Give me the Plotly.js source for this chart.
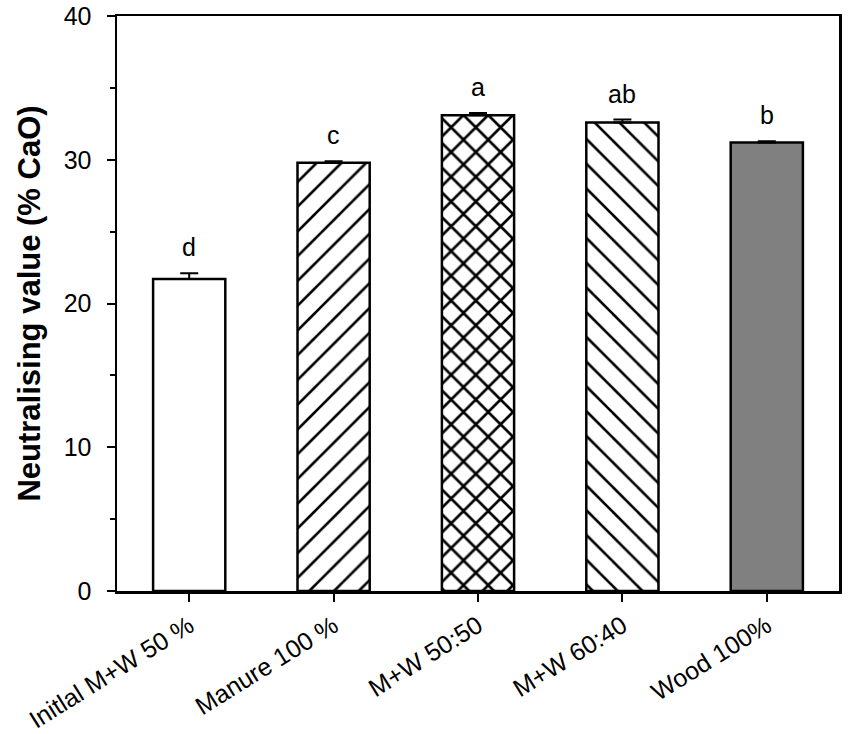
<!DOCTYPE html>
<html>
<head>
<meta charset="utf-8">
<script src="https://cdn.plot.ly/plotly-3.0.1.min.js"></script>
<style>
  html, body { margin: 0; padding: 0; background: #fff; }
  #chart { width: 848px; height: 734px; }
</style>
</head>
<body>
<div id="chart"></div>
<script>
// values
const treatments = ['Initlal M+W 50 %', 'Manure 100 %', 'M+W 50:50', 'M+W 60:40', 'Wood 100%'];
const neutralising = [21.7, 29.8, 33.1, 32.6, 31.2];
const stdErr = [0.4, 0.1, 0.15, 0.2, 0.08];
const groupLetters = ['d', 'c', 'a', 'ab', 'b'];

const hatchShapes = ['', '/', 'x', '\\', ''];
const fillColors = ['#ffffff', '#ffffff', '#ffffff', '#ffffff', '#808080'];
// plotly thins the 'x' hatch for a given solidity, so it needs more to look the same
const hatchSolidity = { '/': 0.15, '\\': 0.15, 'x': 0.28, '': 0.15 };

const FONT = 'Liberation Sans, Arial, sans-serif';

// one trace per bar so every hatch keeps a black foreground
// (an array marker.color makes plotly paint the hatch in the bar colour)
const traces = treatments.map((name, i) => ({
    x: [i],
    y: [neutralising[i]],
    name: name,
    type: 'bar',
    width: 0.5,
    marker: {
        color: fillColors[i],
        line: { color: '#000', width: 2.5 },
        pattern: {
            shape: hatchShapes[i],
            fgcolor: '#000',
            bgcolor: fillColors[i],
            size: 17.5,
            solidity: hatchSolidity[hatchShapes[i]]
        }
    },
    error_y: {
        type: 'data',
        symmetric: false,
        array: [stdErr[i]],
        arrayminus: [0],
        color: '#000',
        thickness: 2,
        width: 9
    },
    hoverinfo: 'skip'
}));

const letterNotes = groupLetters.map((txt, i) => ({
    x: i,
    y: neutralising[i] + stdErr[i],
    text: txt,
    showarrow: false,
    yanchor: 'bottom',
    yshift: 10,
    font: { family: FONT, size: 25, color: '#000' }
}));

const layout = {
    width: 848,
    height: 734,
    margin: { l: 117, r: 9, t: 16, b: 143 },
    paper_bgcolor: '#fff',
    plot_bgcolor: '#fff',
    barmode: 'overlay',
    showlegend: false,
    font: { family: FONT, color: '#000' },
    xaxis: {
        range: [-0.5, 4.5],
        tickvals: treatments.map((t, i) => i),
        ticktext: treatments,
        tickangle: -32,
        ticks: 'outside',
        ticklen: 8,
        tickwidth: 2,
        tickcolor: '#000',
        tickfont: { family: FONT, size: 25, color: '#000' },
        showline: true,
        linecolor: '#000',
        linewidth: 2.5,
        mirror: true,
        showgrid: false,
        zeroline: false,
        fixedrange: true
    },
    yaxis: {
        range: [0, 40],
        tickvals: [0, 10, 20, 30, 40],
        ticks: 'outside',
        ticklen: 8,
        tickwidth: 2,
        tickcolor: '#000',
        ticklabelstandoff: 10,
        tickfont: { family: FONT, size: 25, color: '#000' },
        minor: { dtick: 5, ticks: 'outside', ticklen: 5, tickwidth: 2, tickcolor: '#000', showgrid: false },
        showline: true,
        linecolor: '#000',
        linewidth: 2.5,
        mirror: true,
        showgrid: false,
        zeroline: false,
        fixedrange: true,
        title: {
            text: '<b>Neutralising value (% CaO)</b>',
            font: { family: FONT, size: 31, color: '#000' },
            standoff: 14
        }
    },
    annotations: letterNotes
};

Plotly.newPlot('chart', traces, layout, { displayModeBar: false, staticPlot: true });
</script>
</body>
</html>
